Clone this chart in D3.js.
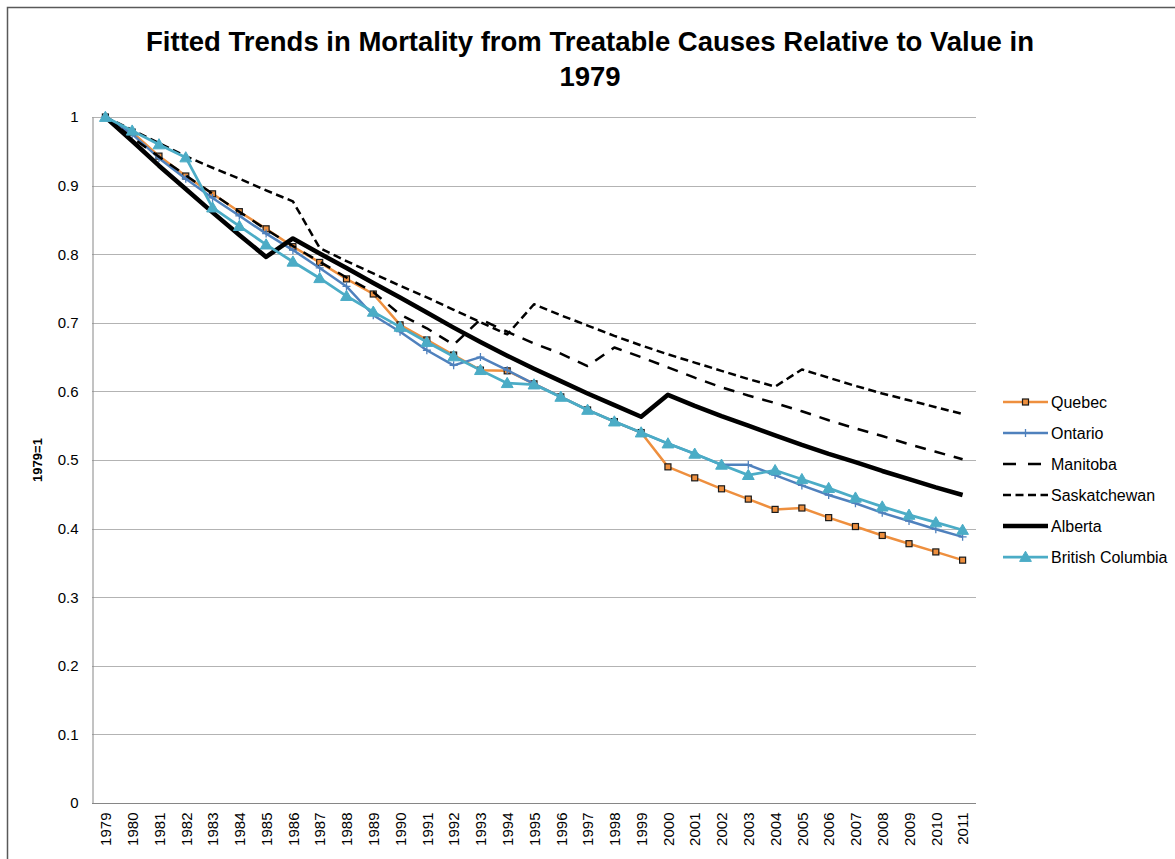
<!DOCTYPE html>
<html>
<head>
  <meta charset="utf-8">
  <title>Fitted Trends in Mortality</title>
  <script src="https://d3js.org/d3.v7.min.js"></script>
  <style type="text/css">
    body { margin: 0; background: #ffffff; }
    svg { display: block; font-family: "Liberation Sans", Arial, sans-serif; }
  </style>
</head>
<body>
  <div id="chart"></div>
<script type="text/javascript">
  // values (1979 = 1)
  const years = ['1979','1980','1981','1982','1983','1984','1985','1986','1987','1988','1989',
    '1990','1991','1992','1993','1994','1995','1996','1997','1998','1999','2000',
    '2001','2002','2003','2004','2005','2006','2007','2008','2009','2010','2011'];
  const quebec = [1.000, 0.978, 0.943, 0.914, 0.888, 0.862, 0.837, 0.811, 0.788, 0.764, 0.742,
    0.697, 0.675, 0.653, 0.631, 0.630, 0.611, 0.592, 0.573, 0.556, 0.540, 0.490,
    0.474, 0.458, 0.443, 0.428, 0.430, 0.416, 0.403, 0.390, 0.378, 0.366, 0.354];
  const ontario = [1.000, 0.975, 0.940, 0.910, 0.882, 0.856, 0.830, 0.806, 0.780, 0.753, 0.711,
    0.687, 0.660, 0.638, 0.650, 0.631, 0.611, 0.592, 0.573, 0.556, 0.540, 0.524,
    0.509, 0.493, 0.493, 0.478, 0.463, 0.449, 0.437, 0.423, 0.411, 0.399, 0.388];
  const manitoba = [1.000, 0.970, 0.942, 0.915, 0.888, 0.862, 0.836, 0.812, 0.789, 0.766, 0.745,
    0.712, 0.692, 0.668, 0.705, 0.687, 0.670, 0.655, 0.637, 0.664, 0.650, 0.635,
    0.620, 0.606, 0.594, 0.583, 0.571, 0.558, 0.546, 0.535, 0.523, 0.512, 0.501];
  const saskatchewan = [1.000, 0.981, 0.962, 0.943, 0.926, 0.910, 0.893, 0.877, 0.809, 0.790, 0.772,
    0.754, 0.737, 0.719, 0.701, 0.683, 0.727, 0.711, 0.696, 0.681, 0.667, 0.654,
    0.642, 0.630, 0.618, 0.607, 0.632, 0.620, 0.608, 0.597, 0.587, 0.577, 0.567];
  const alberta = [1.000, 0.965, 0.929, 0.895, 0.861, 0.828, 0.796, 0.823, 0.801, 0.780, 0.758,
    0.737, 0.715, 0.693, 0.672, 0.652, 0.633, 0.615, 0.597, 0.580, 0.563, 0.595,
    0.579, 0.564, 0.550, 0.536, 0.522, 0.509, 0.497, 0.484, 0.472, 0.460, 0.449];
  const britishColumbia = [1.000, 0.980, 0.960, 0.941, 0.868, 0.841, 0.814, 0.789, 0.765, 0.739, 0.716,
    0.694, 0.672, 0.651, 0.631, 0.612, 0.610, 0.592, 0.573, 0.556, 0.540, 0.524,
    0.509, 0.493, 0.478, 0.485, 0.472, 0.459, 0.445, 0.432, 0.420, 0.409, 0.398];
  const yTicks = [0, 0.1, 0.2, 0.3, 0.4, 0.5, 0.6, 0.7, 0.8, 0.9, 1];

  const series = [
    { name: 'Quebec', values: quebec, color: '#ee8f3e', width: 2.5, dash: null, marker: 'square' },
    { name: 'Ontario', values: ontario, color: '#4f81bd', width: 2.5, dash: null, marker: 'plus' },
    { name: 'Manitoba', values: manitoba, color: '#000000', width: 2.5, dash: '11,9', marker: null },
    { name: 'Saskatchewan', values: saskatchewan, color: '#000000', width: 2.5, dash: '8,4.5', marker: null },
    { name: 'Alberta', values: alberta, color: '#000000', width: 4.5, dash: null, marker: null },
    { name: 'British Columbia', values: britishColumbia, color: '#4bacc6', width: 2.75, dash: null, marker: 'triangle' }
  ];

  const width = 1175, height = 859;
  const plot = { left: 92, right: 976, top: 117, bottom: 803 };

  const svg = d3.select('#chart').append('svg')
    .attr('width', width)
    .attr('height', height);

  // outer frame of the chart
  svg.append('rect')
    .attr('x', 7.5).attr('y', 7.5)
    .attr('width', width).attr('height', height)
    .attr('fill', 'none')
    .attr('stroke', '#595959')
    .attr('stroke-width', 1.5);

  const x = d3.scalePoint()
    .domain(years)
    .range([plot.left, plot.right])
    .padding(0.5);
  const y = d3.scaleLinear()
    .domain([0, 1])
    .range([plot.bottom, plot.top]);

  // gridlines
  svg.append('g')
    .selectAll('line').data(yTicks.filter(d => d > 0)).enter()
    .append('line')
      .attr('x1', plot.left).attr('x2', plot.right)
      .attr('y1', d => Math.round(y(d)) + 0.5).attr('y2', d => Math.round(y(d)) + 0.5)
      .attr('stroke', '#b3b3b3')
      .attr('stroke-width', 1);

  // y axis
  const yAxis = svg.append('g')
    .attr('transform', `translate(${plot.left + 0.5},0)`)
    .call(d3.axisLeft(y).tickValues(yTicks).tickSize(0).tickPadding(14).tickFormat(d3.format('')));
  yAxis.select('.domain').attr('stroke', '#868686');
  yAxis.selectAll('text')
    .attr('font-size', 15)
    .attr('font-family', '"Liberation Sans", Arial, sans-serif')
    .attr('fill', '#000');

  // x axis
  const xAxis = svg.append('g')
    .attr('transform', `translate(0,${plot.bottom + 0.5})`)
    .call(d3.axisBottom(x).tickSize(0).tickPadding(0));
  xAxis.select('.domain').attr('d', `M${plot.left},0H${plot.right}`).attr('stroke', '#868686');
  xAxis.selectAll('text')
    .attr('font-size', 15)
    .attr('font-family', '"Liberation Sans", Arial, sans-serif')
    .attr('fill', '#000')
    .attr('text-anchor', 'end')
    .attr('transform', 'rotate(-90)')
    .attr('x', -9)
    .attr('y', 0)
    .attr('dy', '0.35em');

  // y axis title
  svg.append('text')
    .attr('transform', `translate(42,${(plot.top + plot.bottom) / 2}) rotate(-90)`)
    .attr('text-anchor', 'middle')
    .attr('font-size', 13)
    .attr('font-weight', 'bold')
    .text('1979=1');

  // title
  const title = svg.append('text')
    .attr('text-anchor', 'middle')
    .attr('font-size', 27.5)
    .attr('font-weight', 'bold');
  title.append('tspan').attr('x', 590).attr('y', 51)
    .text('Fitted Trends in Mortality from Treatable Causes Relative to Value in');
  title.append('tspan').attr('x', 590).attr('y', 86).text('1979');

  // series
  const line = d3.line()
    .x((d, i) => x(years[i]))
    .y(d => y(d));

  const drawMarker = (g, type, color, cx, cy) => {
    if (type === 'square') {
      g.append('rect')
        .attr('x', cx - 3).attr('y', cy - 3)
        .attr('width', 6).attr('height', 6)
        .attr('fill', color)
        .attr('stroke', '#1a1a1a')
        .attr('stroke-width', 1.2);
    } else if (type === 'plus') {
      g.append('path')
        .attr('d', `M${cx - 4},${cy}H${cx + 4}M${cx},${cy - 4}V${cy + 4}`)
        .attr('stroke', color)
        .attr('stroke-width', 1.3)
        .attr('fill', 'none');
    } else if (type === 'triangle') {
      g.append('path')
        .attr('d', d3.symbol().type(d3.symbolTriangle).size(60)())
        .attr('transform', `translate(${cx},${cy + 1})`)
        .attr('fill', color)
        .attr('stroke', color)
        .attr('stroke-width', 1);
    }
  };

  series.forEach(s => {
    const g = svg.append('g').attr('class', 'series');
    g.append('path')
      .datum(s.values)
      .attr('d', line)
      .attr('fill', 'none')
      .attr('stroke', s.color)
      .attr('stroke-width', s.width)
      .attr('stroke-linejoin', 'round')
      .attr('stroke-dasharray', s.dash);
    if (s.marker) {
      s.values.forEach((v, i) => drawMarker(g, s.marker, s.color, x(years[i]), y(v)));
    }
  });

  // legend
  const legend = svg.append('g');
  series.forEach((s, i) => {
    const ly = 402 + i * 31;
    legend.append('line')
      .attr('x1', 1003).attr('x2', 1048)
      .attr('y1', ly).attr('y2', ly)
      .attr('stroke', s.color)
      .attr('stroke-width', s.width)
      .attr('stroke-dasharray', s.name === 'Manitoba' ? '13,12' : s.dash);
    if (s.marker) drawMarker(legend, s.marker, s.color, 1025.5, ly);
    legend.append('text')
      .attr('x', 1051).attr('y', ly)
      .attr('dy', '0.35em')
      .attr('font-size', 16)
      .text(s.name);
  });
</script>
</body>
</html>
